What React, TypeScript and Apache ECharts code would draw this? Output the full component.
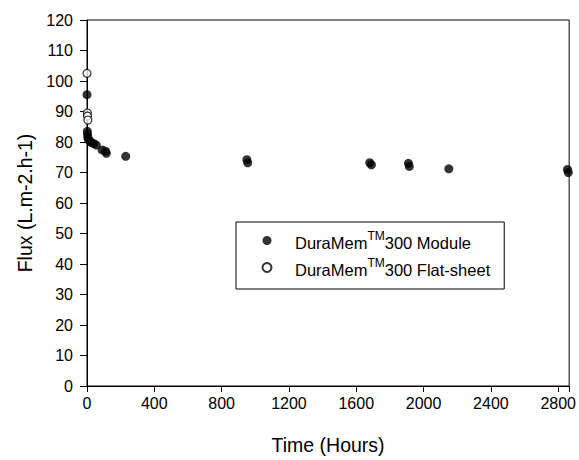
import React, { useEffect, useRef } from "react";
import * as echarts from "echarts";

const moduleData: [number, number][] = [
  [0, 95.5], [2, 83.5], [3, 82.5], [5, 81.5], [8, 80.8], [15, 80.4], [25, 79.8],
  [40, 79.5], [55, 79.0], [90, 77.4], [110, 77.0], [115, 76.3], [230, 75.3],
  [950, 74.2], [955, 73.2], [1680, 73.2], [1690, 72.5], [1910, 73.0], [1915, 72.0],
  [2150, 71.2], [2855, 71.0], [2860, 70.0],
];
const flatSheetData: [number, number][] = [
  [0, 102.5], [2, 89.5], [3, 88.5], [5, 87.2],
];
const seriesNames = ["DuraMem300 Module", "DuraMem300 Flat-sheet"];
const legendLabels: Record<string, string> = {
  "DuraMem300 Module": "{a|DuraMem}{s|TM}{a|300 Module}",
  "DuraMem300 Flat-sheet": "{a|DuraMem}{s|TM}{a|300 Flat-sheet}",
};

const FONT = "'Liberation Sans', Arial, sans-serif";

export default function App() {
  const ref = useRef<HTMLDivElement>(null);
  useEffect(() => {
    document.body.style.margin = "0";
    if (!ref.current) return;
    const chart = echarts.init(ref.current, undefined, { renderer: "svg" });
    chart.setOption({
      animation: false,
      backgroundColor: "#fff",
      textStyle: { fontFamily: FONT },
      grid: {
        left: 87, right: 7, top: 20, bottom: 74,
        show: true, borderColor: "#000", borderWidth: 1, backgroundColor: "transparent",
      },
      xAxis: {
        type: "value", min: 0, max: 2865, interval: 400,
        name: "Time (Hours)", nameLocation: "middle", nameGap: 49,
        nameTextStyle: { fontSize: 19.5, color: "#000", fontFamily: FONT },
        axisLine: { show: true, lineStyle: { color: "#000", width: 1 } },
        axisTick: { show: true, length: 6, lineStyle: { color: "#000" } },
        axisLabel: {
          fontSize: 16, color: "#000", margin: 9, fontFamily: FONT,
          formatter: (v: number) => (v % 400 === 0 ? String(v) : ""),
        },
        splitLine: { show: false },
      },
      yAxis: {
        type: "value", min: 0, max: 120, interval: 10,
        name: "Flux (L.m-2.h-1)", nameLocation: "middle", nameGap: 52,
        nameTextStyle: { fontSize: 19.5, color: "#000", fontFamily: FONT },
        axisLine: { show: true, lineStyle: { color: "#000", width: 1 } },
        axisTick: { show: true, length: 7, lineStyle: { color: "#000" } },
        axisLabel: { fontSize: 16, color: "#000", margin: 14, fontFamily: FONT },
        splitLine: { show: false },
      },
      legend: {
        data: seriesNames,
        orient: "vertical",
        left: 236, top: 222,
        padding: [8, 14, 11, 25.5],
        borderColor: "#000", borderWidth: 1,
        itemGap: 6,
        itemWidth: 9, itemHeight: 9,
        formatter: (n: string) => legendLabels[n] ?? n,
        textStyle: {
          color: "#000", fontFamily: FONT,
          padding: [0, 0, 0, 18.5],
          rich: {
            a: { fontSize: 16.5, lineHeight: 21, verticalAlign: "bottom", color: "#000", fontFamily: FONT },
            s: { fontSize: 12, lineHeight: 21, verticalAlign: "top", color: "#000", fontFamily: FONT },
          },
        },
      },
      series: [
        {
          name: seriesNames[0], type: "scatter", data: moduleData,
          symbol: "circle", symbolSize: 9,
          itemStyle: { color: "#000", borderColor: "#000", borderWidth: 0 },
        },
        {
          name: seriesNames[1], type: "scatter", data: flatSheetData,
          symbol: "circle", symbolSize: 8,
          itemStyle: { color: "#fff", borderColor: "#000", borderWidth: 1.2 },
        },
      ],
    });
    return () => chart.dispose();
  }, []);
  return <div ref={ref} style={{ width: 579, height: 460 }} />;
}
